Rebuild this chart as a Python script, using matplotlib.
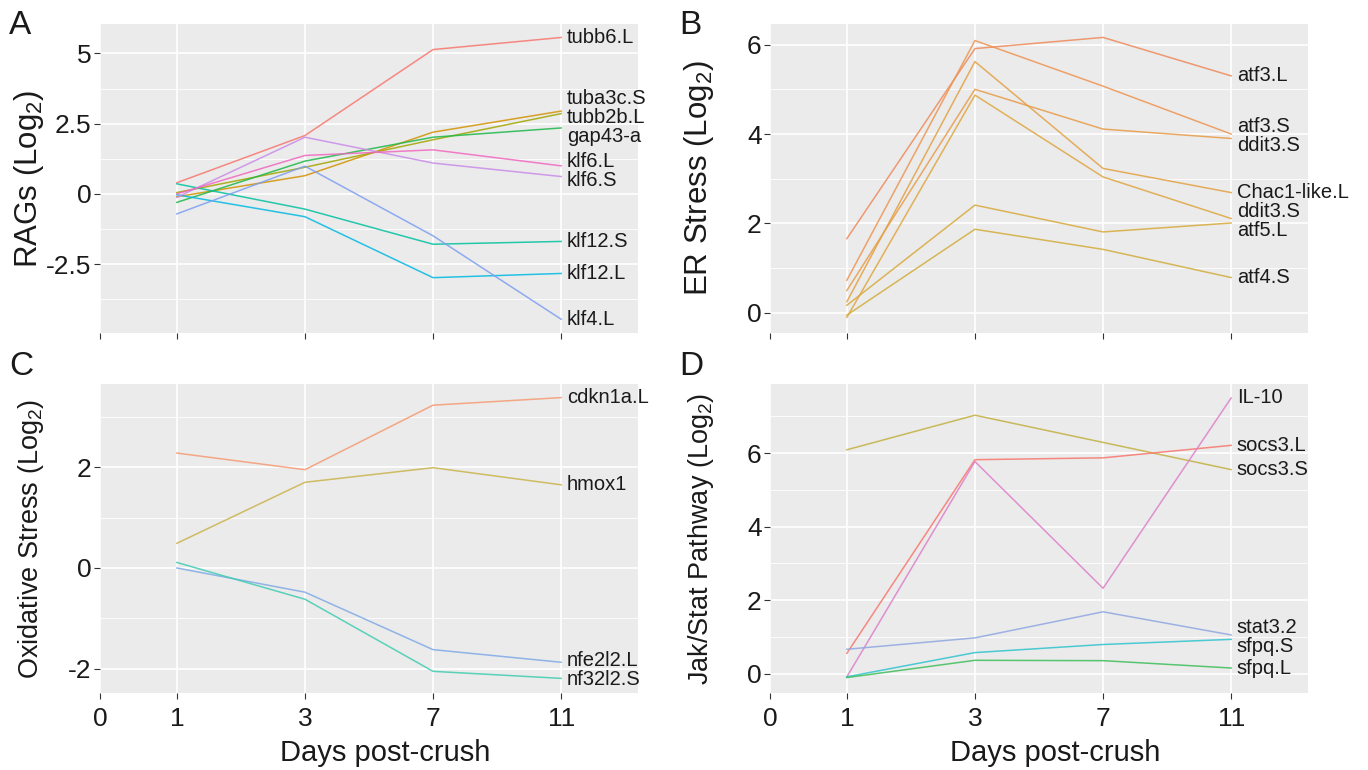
import matplotlib.pyplot as plt
import numpy as np

plt.rcParams['font.family'] = 'Liberation Sans'
plt.rcParams['mathtext.fontset'] = 'custom'
plt.rcParams['mathtext.rm'] = 'Liberation Sans'

days = ["1", "3", "7", "11"]

# A - regeneration associated genes
rag_genes = ["tubb6.L", "tuba3c.S", "tubb2b.L", "gap43-a", "klf12.S", "klf12.L", "klf4.L", "klf6.S", "klf6.L"]
rag_vals = [
    [0.40, 2.08, 5.14, 5.57],
    [-0.10, 0.65, 2.20, 2.95],
    [0.05, 0.95, 1.93, 2.86],
    [-0.30, 1.17, 2.02, 2.35],
    [0.36, -0.54, -1.79, -1.69],
    [-0.03, -0.81, -2.98, -2.83],
    [-0.71, 0.99, -1.49, -4.46],
    [-0.12, 2.02, 1.10, 0.62],
    [0.00, 1.37, 1.57, 1.00],
]
rag_colors = ["#F8766D", "#D39200", "#A3A500", "#1DB848", "#00C19F", "#00B9E3", "#7D9EF0", "#C98BE8", "#F068C0"]

# B - ER stress
er_genes = ["atf3.L", "atf3.S", "ddit3.S", "Chac1-like.L", "ddit3.S", "atf5.L", "atf4.S"]
er_vals = [
    [1.66, 5.91, 6.16, 5.30],
    [0.73, 6.09, 5.07, 4.00],
    [0.50, 5.00, 4.11, 3.90],
    [0.25, 5.62, 3.23, 2.69],
    [-0.10, 4.87, 3.04, 2.11],
    [0.17, 2.41, 1.81, 2.01],
    [-0.05, 1.87, 1.42, 0.79],
]
er_colors = ["#EE8A5A", "#EE9450", "#E89B48", "#E3A042", "#DFA53F", "#D8A93A", "#D2AC3A"]

# C - oxidative stress
ox_genes = ["cdkn1a.L", "hmox1", "nfe2l2.L", "nf32l2.S"]
ox_vals = [
    [2.28, 1.95, 3.23, 3.38],
    [0.49, 1.70, 1.99, 1.65],
    [0.00, -0.48, -1.62, -1.87],
    [0.11, -0.62, -2.05, -2.19],
]
ox_colors = ["#F59A72", "#C9B34A", "#7FA9E6", "#3FCCB0"]

# D - Jak/Stat
js_genes = ["socs3.S", "socs3.L", "IL-10", "stat3.2", "sfpq.S", "sfpq.L"]
js_vals = [
    [6.09, 7.03, 6.29, 5.55],
    [0.55, 5.82, 5.87, 6.21],
    [-0.09, 5.77, 2.32, 7.50],
    [0.66, 0.97, 1.68, 1.05],
    [-0.09, 0.57, 0.79, 0.93],
    [-0.11, 0.36, 0.35, 0.15],
]
js_colors = ["#C2B040", "#F8766D", "#DD7FCB", "#8FA6E0", "#2EC4CE", "#3DBE5A"]


def spread(vals, gap):
    # push overlapping end labels apart, a bit like ggrepel
    vals = np.array(vals, dtype=float)
    order = np.argsort(vals)
    pos = vals[order].copy()
    for _ in range(300):
        for i in range(len(pos) - 1):
            d = pos[i + 1] - pos[i]
            if d < gap:
                s = (gap - d) / 2
                pos[i] -= s
                pos[i + 1] += s
    out = np.empty_like(pos)
    out[order] = pos
    return out


W, H = 1368, 770
fig = plt.figure(figsize=(W / 100, H / 100), dpi=100)

panels = [
    ("A", rag_genes, rag_vals, rag_colors, r"RAGs (Log$_\mathregular{2}$)", (-4.95, 6.05),
     [-2.5, 0, 2.5, 5], ["-2.5", "0", "2.5", "5"], [-3.75, -1.25, 1.25, 3.75], 100, 24, 26, 22.5),
    ("B", er_genes, er_vals, er_colors, r"ER Stress (Log$_\mathregular{2}$)", (-0.45, 6.46),
     [0, 2, 4, 6], ["0", "2", "4", "6"], [1, 3, 5], 770, 24, 26, 22.5),
    ("C", ox_genes, ox_vals, ox_colors, r"Oxidative Stress (Log$_\mathregular{2}$)", (-2.48, 3.65),
     [-2, 0, 2], ["-2", "0", "2"], [-1, 1, 3], 100, 384, 366, 19.5),
    ("D", js_genes, js_vals, js_colors, r"Jak/Stat Pathway (Log$_\mathregular{2}$)", (-0.53, 7.88),
     [0, 2, 4, 6], ["0", "2", "4", "6"], [1, 3, 5, 7], 770, 384, 366, 19.5),
]

ax_w, ax_h = 538, 309
for letter, genes, vals, colors, ylab, ylim, yt, ytl, ymin, left, top, let_y, ylab_size in panels:
    ax = fig.add_axes([left / W, 1 - (top + ax_h) / H, ax_w / W, ax_h / H])
    ax.set_facecolor("#EBEBEB")
    for sp in ax.spines.values():
        sp.set_visible(False)
    ax.set_axisbelow(True)

    x = np.arange(len(days))
    for v, c in zip(vals, colors):
        ax.plot(x, v, color=c, lw=1.1, alpha=0.85)

    ax.set_xlim(-0.6, 3.6)
    ax.set_ylim(*ylim)
    ax.set_xticks([-0.6] + list(x))
    ax.set_xticklabels(["0"] + days)
    ax.set_yticks(yt)
    ax.set_yticklabels(ytl)
    ax.set_yticks(ymin, minor=True)
    ax.grid(which="major", color="white", lw=1.2)
    ax.grid(which="minor", axis="y", color="white", lw=0.6)
    ax.tick_params(which="major", length=4, width=0.8, color="#333333",
                   labelsize=19, labelcolor="#1a1a1a")
    ax.tick_params(axis="y", pad=2)
    ax.tick_params(axis="x", pad=6)
    ax.tick_params(which="minor", length=0)

    ax.set_ylabel(ylab, fontsize=ylab_size, color="#1a1a1a")
    ax.yaxis.set_label_coords(-0.10, 0.5)
    if letter in ("A", "B"):
        ax.tick_params(labelbottom=False)
    else:
        ax.set_xlabel("Days post-crush", fontsize=21, color="#1a1a1a", va="top")
        ax.xaxis.set_label_coords(0.53, -46 / ax_h)

    ends = [v[-1] for v in vals]
    gap = 19 * (ylim[1] - ylim[0]) / ax_h
    lab_y = spread(ends, gap)
    for g, ly in zip(genes, lab_y):
        ax.annotate(g, xy=(3, ly), xytext=(4, 0), textcoords="offset points",
                    va="center", ha="left", fontsize=14.5, color="#1a1a1a",
                    annotation_clip=False)

    fig.text((left - 91) / W, 1 - let_y / H, letter, fontsize=24,
             va="center", ha="left", color="#1a1a1a")

fig.savefig("out.png", dpi=100)
